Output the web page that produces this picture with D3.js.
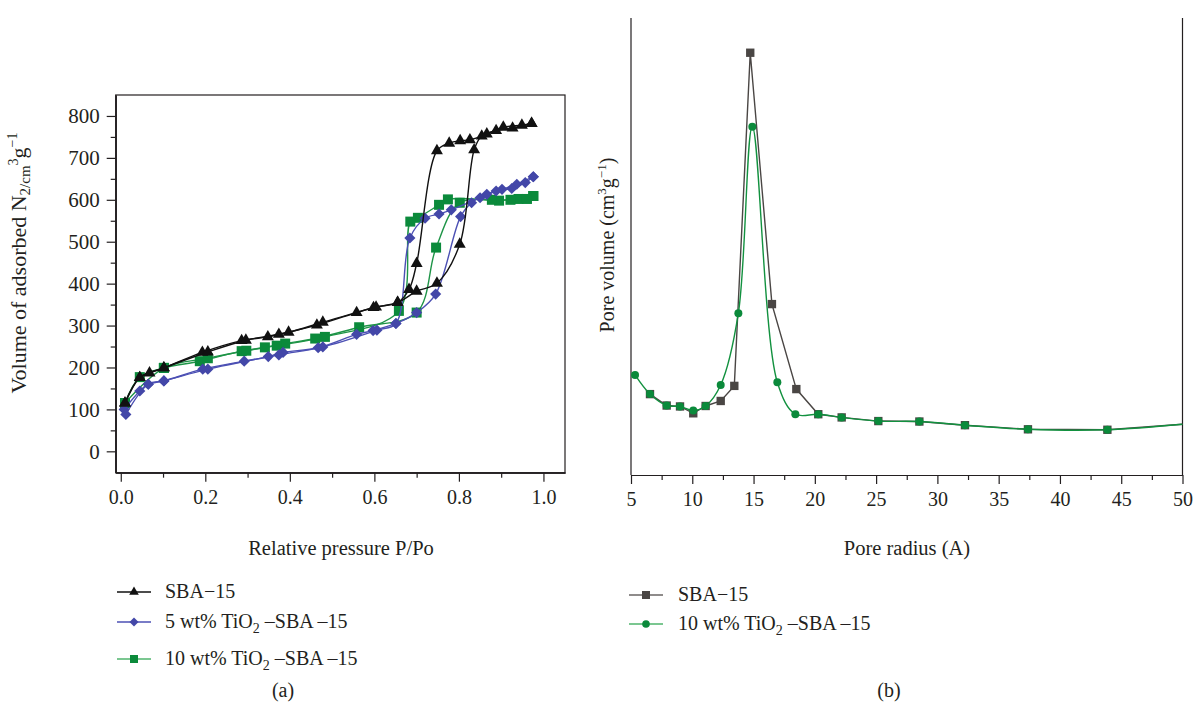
<!DOCTYPE html>
<html><head><meta charset="utf-8">
<script src="https://cdn.jsdelivr.net/npm/d3@7/dist/d3.min.js"></script>
<style>
body{margin:0;background:#fff;}
svg{display:block;font-family:"Liberation Serif","DejaVu Serif",serif;}
</style></head><body>
<svg id="c" width="1196" height="712"></svg>
<script>
// ---------- Panel (a): N2 adsorption–desorption isotherms ----------
const xTicksA = [0.0, 0.2, 0.4, 0.6, 0.8, 1.0];
const yTicksA = [0, 100, 200, 300, 400, 500, 600, 700, 800];

const sbaAdsP = [0.010, 0.045, 0.068, 0.102, 0.193, 0.286, 0.348, 0.374, 0.464, 0.558, 0.598, 0.655, 0.700, 0.748, 0.802, 0.836, 0.854, 0.888, 0.927, 0.972];
const sbaAdsV = [115, 176, 187, 199, 236, 264, 273, 279, 301, 331, 343, 355, 382, 401, 494, 719, 752, 765, 771, 782];
const sbaDesP = [0.972, 0.949, 0.905, 0.866, 0.826, 0.803, 0.777, 0.748, 0.700, 0.682, 0.655, 0.604, 0.478, 0.397, 0.296, 0.206, 0.102, 0.045, 0.010];
const sbaDesV = [782, 778, 773, 757, 743, 741, 735, 717, 448, 386, 355, 344, 308, 284, 265, 237, 199, 176, 115];

const ti5AdsP = [0.008, 0.045, 0.065, 0.102, 0.194, 0.292, 0.349, 0.384, 0.467, 0.558, 0.597, 0.651, 0.700, 0.745, 0.804, 0.830, 0.866, 0.902, 0.937, 0.976];
const ti5AdsV = [100, 144, 160, 168, 196, 215, 226, 236, 247, 279, 288, 305, 331, 375, 560, 593, 613, 625, 637, 655];
const ti5DesP = [0.976, 0.957, 0.925, 0.888, 0.850, 0.782, 0.753, 0.720, 0.684, 0.651, 0.606, 0.478, 0.374, 0.206, 0.102, 0.065, 0.012];
const ti5DesV = [655, 641, 627, 621, 605, 576, 566, 556, 509, 305, 289, 249, 230, 196, 168, 160, 88];

const ti10AdsP = [0.010, 0.045, 0.102, 0.187, 0.286, 0.341, 0.389, 0.460, 0.564, 0.700, 0.746, 0.802, 0.895, 0.941, 0.976];
const ti10AdsV = [115, 177, 199, 215, 239, 248, 257, 269, 296, 331, 486, 593, 598, 602, 609];
const ti10DesP = [0.976, 0.961, 0.922, 0.878, 0.774, 0.753, 0.703, 0.685, 0.658, 0.483, 0.369, 0.297, 0.206, 0.102, 0.010];
const ti10DesV = [609, 602, 600, 600, 601, 588, 557, 548, 335, 273, 252, 240, 222, 199, 115];

// ---------- Panel (b): pore size distribution ----------
const xTicksB = [5, 10, 15, 20, 25, 30, 35, 40, 45, 50];
const sbaR = [6.55, 7.91, 9.0, 10.08, 11.09, 12.32, 13.43, 14.73, 16.5, 18.49, 20.28, 22.19, 25.18, 28.53, 32.25, 37.39, 43.87, 50];
const sbaPV = [0.177, 0.152, 0.150, 0.135, 0.151, 0.162, 0.195, 0.924, 0.374, 0.188, 0.133, 0.126, 0.118, 0.117, 0.109, 0.100, 0.099, 0.111];
const ti10R = [5.33, 6.55, 7.91, 9.0, 10.08, 11.09, 12.32, 13.76, 14.9, 16.94, 18.41, 20.28, 22.19, 25.18, 28.53, 32.25, 37.39, 43.87, 50];
const ti10PV = [0.219, 0.177, 0.152, 0.150, 0.141, 0.151, 0.197, 0.354, 0.762, 0.203, 0.133, 0.133, 0.126, 0.118, 0.117, 0.109, 0.100, 0.099, 0.111];

const svg = d3.select("#c");
const FONT = 20;
const INK = "#231f20";

function pts(P, V) { return P.map((p, i) => [p, V[i]]); }

// ===== Panel (a) =====
const xA = d3.scaleLinear().domain([-0.012, 1.051]).range([115.7, 565]);
const yA = d3.scaleLinear().domain([-51, 850]).range([472.7, 95]);
const gA = svg.append("g");

gA.append("rect").attr("x", xA.range()[0]).attr("y", yA.range()[1])
  .attr("width", xA.range()[1] - xA.range()[0]).attr("height", yA.range()[0] - yA.range()[1])
  .attr("fill", "none").attr("stroke", INK).attr("stroke-width", 1.2);

function styleAxis(g) {
  g.select(".domain").attr("stroke", INK).attr("stroke-width", 1.2);
  g.selectAll(".tick line").attr("stroke", INK).attr("stroke-width", 1.2);
  g.selectAll(".tick text").attr("font-family", "Liberation Serif, DejaVu Serif, serif").attr("font-size", FONT).attr("fill", INK);
}
const axBA = gA.append("g").attr("transform", `translate(0,${yA.range()[0]})`)
  .call(d3.axisBottom(xA).tickValues(xTicksA).tickFormat(d3.format(".1f")).tickSize(9).tickPadding(8).tickSizeOuter(0));
styleAxis(axBA);
const minorXA = d3.range(0.1, 1.01, 0.2);
const axBAm = gA.append("g").attr("transform", `translate(0,${yA.range()[0]})`)
  .call(d3.axisBottom(xA).tickValues(minorXA).tickFormat("").tickSize(5).tickSizeOuter(0));
styleAxis(axBAm);
const axLA = gA.append("g").attr("transform", `translate(${xA.range()[0]},0)`)
  .call(d3.axisLeft(yA).tickValues(yTicksA).tickSize(9).tickPadding(7).tickSizeOuter(0));
styleAxis(axLA);
axLA.selectAll(".tick text").attr("font-size", 21);
const minorYA = d3.range(50, 801, 100);
const axLAm = gA.append("g").attr("transform", `translate(${xA.range()[0]},0)`)
  .call(d3.axisLeft(yA).tickValues(minorYA).tickFormat("").tickSize(5).tickSizeOuter(0));
styleAxis(axLAm);

const lineA = d3.line().x(d => xA(d[0])).y(d => yA(d[1])).curve(d3.curveCatmullRom.alpha(0.5));

const seriesA = [
  { ads: pts(ti10AdsP, ti10AdsV), des: pts(ti10DesP, ti10DesV), color: "#0b8a3b", line: "#1e9447", sym: d3.symbolSquare, size: 100, rot: 0 },
  { ads: pts(ti5AdsP, ti5AdsV), des: pts(ti5DesP, ti5DesV), color: "#4347a8", line: "#4c50b4", sym: d3.symbolSquare, size: 62, rot: 45 },
  { ads: pts(sbaAdsP, sbaAdsV), des: pts(sbaDesP, sbaDesV), color: "#111", line: "#111", sym: d3.symbolTriangle, size: 62, rot: 0 }
];
seriesA.forEach(s => {
  [s.ads, s.des].forEach(arr => {
    gA.append("path").attr("d", lineA(arr)).attr("fill", "none").attr("stroke", s.line).attr("stroke-width", 1.4);
  });
  const all = s.ads.concat(s.des);
  gA.append("g").selectAll("path").data(all).join("path")
    .attr("d", d3.symbol().type(s.sym).size(s.size))
    .attr("transform", d => `translate(${xA(d[0])},${yA(d[1])}) rotate(${s.rot})`)
    .attr("fill", s.color);
});

gA.append("text").attr("x", 341).attr("y", 555).attr("text-anchor", "middle")
  .attr("font-size", 20.5).attr("fill", INK).text("Relative pressure P/Po");
const yt = gA.append("text").attr("transform", "translate(26,263) rotate(-90)")
  .attr("text-anchor", "middle").attr("font-size", 22).attr("fill", INK);
yt.append("tspan").text("Volume of adsorbed N");
yt.append("tspan").attr("font-size", 15).attr("dy", 4).text("2/cm");
yt.append("tspan").attr("font-size", 14).attr("dy", -12).text("3");
yt.append("tspan").attr("dy", 8).text("g");
yt.append("tspan").attr("font-size", 14).attr("dy", -9).text("−1");

const legA = [
  { label: ["SBA−15"], color: "#111", line: "#111", sym: d3.symbolTriangle, size: 40, rot: 0, y: 592 },
  { label: ["5 wt% TiO", "2", " –SBA –15"], color: "#4347a8", line: "#4c50b4", sym: d3.symbolSquare, size: 40, rot: 45, y: 622 },
  { label: ["10 wt% TiO", "2", " –SBA –15"], color: "#0b8a3b", line: "#4fb56d", sym: d3.symbolSquare, size: 64, rot: 0, y: 659 }
];
legA.forEach(l => {
  gA.append("line").attr("x1", 117).attr("x2", 151).attr("y1", l.y).attr("y2", l.y).attr("stroke", l.line).attr("stroke-width", 1.4);
  gA.append("path").attr("d", d3.symbol().type(l.sym).size(l.size)()).attr("transform", `translate(134,${l.y}) rotate(${l.rot})`).attr("fill", l.color);
  const t = gA.append("text").attr("x", 165).attr("y", l.y + 6).attr("font-size", FONT).attr("fill", INK);
  t.append("tspan").text(l.label[0]);
  if (l.label.length > 1) {
    t.append("tspan").attr("font-size", 14).attr("dy", 5).text(l.label[1]);
    t.append("tspan").attr("dy", -5).text(l.label[2]);
  }
});
gA.append("text").attr("x", 283).attr("y", 697).attr("text-anchor", "middle").attr("font-size", FONT).attr("fill", INK).text("(a)");

// ===== Panel (b) =====
const xB = d3.scaleLinear().domain([5, 50]).range([631, 1182.5]);
const yB = d3.scaleLinear().domain([0, 1]).range([475, 18]);
const gB = svg.append("g");

const axBB = gB.append("g").attr("transform", `translate(0,${yB.range()[0]})`)
  .call(d3.axisBottom(xB).tickValues(xTicksB).tickFormat(d3.format("d")).tickSize(9).tickPadding(8).tickSizeOuter(0));
styleAxis(axBB);
const axBBm = gB.append("g").attr("transform", `translate(0,${yB.range()[0]})`)
  .call(d3.axisBottom(xB).tickValues(d3.range(7.5, 50, 5)).tickFormat("").tickSize(5).tickSizeOuter(0));
styleAxis(axBBm);
gB.append("line").attr("x1", xB(5)).attr("x2", xB(5)).attr("y1", yB.range()[1]).attr("y2", yB.range()[0]).attr("stroke", INK).attr("stroke-width", 1.2);
gB.append("line").attr("x1", xB(50)).attr("x2", xB(50)).attr("y1", yB.range()[1]).attr("y2", yB.range()[0]).attr("stroke", INK).attr("stroke-width", 1.2);

const lineBlin = d3.line().x(d => xB(d[0])).y(d => yB(d[1]));
const lineBcur = d3.line().x(d => xB(d[0])).y(d => yB(d[1])).curve(d3.curveCatmullRom.alpha(0.5));
const sbaB = pts(sbaR, sbaPV), tiB = pts(ti10R, ti10PV);

gB.append("path").attr("d", lineBlin(sbaB)).attr("fill", "none").attr("stroke", "#4a4644").attr("stroke-width", 1.4);
gB.append("g").selectAll("path").data(sbaB.filter(d => d[0] < 50)).join("path")
  .attr("d", d3.symbol().type(d3.symbolSquare).size(70))
  .attr("transform", d => `translate(${xB(d[0])},${yB(d[1])})`).attr("fill", "#4a4644");
gB.append("path").attr("d", lineBcur(tiB)).attr("fill", "none").attr("stroke", "#12913f").attr("stroke-width", 1.4);
gB.append("g").selectAll("circle").data(tiB.filter(d => d[0] < 50)).join("circle")
  .attr("cx", d => xB(d[0])).attr("cy", d => yB(d[1])).attr("r", 4).attr("fill", "#0b8a3b");

gB.append("text").attr("x", 907).attr("y", 555).attr("text-anchor", "middle")
  .attr("font-size", 20.5).attr("fill", INK).text("Pore radius (A)");
const yt2 = gB.append("text").attr("transform", "translate(614,245) rotate(-90)")
  .attr("text-anchor", "middle").attr("font-size", FONT).attr("fill", INK);
yt2.append("tspan").text("Pore volume (cm");
yt2.append("tspan").attr("font-size", 13).attr("dy", -8).text("3");
yt2.append("tspan").attr("dy", 8).text("g");
yt2.append("tspan").attr("font-size", 13).attr("dy", -8).text("−1");
yt2.append("tspan").attr("dy", 8).text(")");

const legB = [
  { label: ["SBA−15"], color: "#4a4644", line: "#6a6665", type: "sq", y: 595 },
  { label: ["10 wt% TiO", "2", " –SBA –15"], color: "#0b8a3b", line: "#4fb56d", type: "ci", y: 624 }
];
legB.forEach(l => {
  gB.append("line").attr("x1", 629).attr("x2", 663).attr("y1", l.y).attr("y2", l.y).attr("stroke", l.line).attr("stroke-width", 1.4);
  if (l.type === "sq") gB.append("rect").attr("x", 642).attr("y", l.y - 4).attr("width", 8).attr("height", 8).attr("fill", l.color);
  else gB.append("circle").attr("cx", 646).attr("cy", l.y).attr("r", 3.8).attr("fill", l.color);
  const t = gB.append("text").attr("x", 678).attr("y", l.y + 6).attr("font-size", FONT).attr("fill", INK);
  t.append("tspan").text(l.label[0]);
  if (l.label.length > 1) {
    t.append("tspan").attr("font-size", 14).attr("dy", 5).text(l.label[1]);
    t.append("tspan").attr("dy", -5).text(l.label[2]);
  }
});
gB.append("text").attr("x", 889).attr("y", 697).attr("text-anchor", "middle").attr("font-size", FONT).attr("fill", INK).text("(b)");
</script>
</body></html>
